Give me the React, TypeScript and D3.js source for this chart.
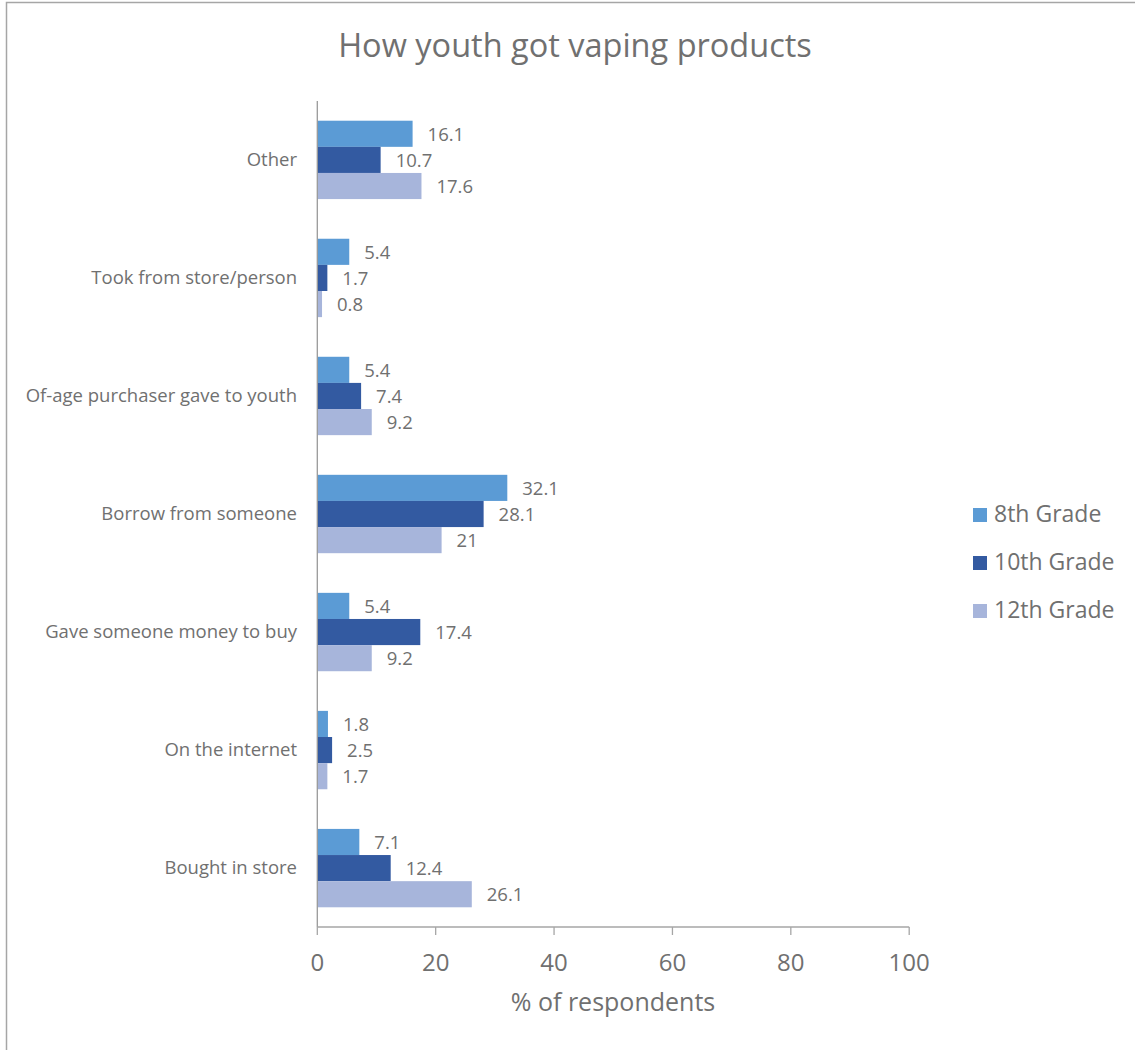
import React from "react";
import * as d3 from "d3";

const categories = [
  "Other",
  "Took from store/person",
  "Of-age purchaser gave to youth",
  "Borrow from someone",
  "Gave someone money to buy",
  "On the internet",
  "Bought in store",
];
const seriesNames = ["8th Grade", "10th Grade", "12th Grade"];
const grade8 = [16.1, 5.4, 5.4, 32.1, 5.4, 1.8, 7.1];
const grade10 = [10.7, 1.7, 7.4, 28.1, 17.4, 2.5, 12.4];
const grade12 = [17.6, 0.8, 9.2, 21, 9.2, 1.7, 26.1];
const xTicks = [0, 20, 40, 60, 80, 100];
const colors = ["#5B9BD5", "#335AA1", "#A7B5DB"];

const FONT = "'Open Sans', 'Noto Sans', sans-serif";
const TEXT = "#707070";

export default function App() {
  const W = 1135, H = 1050;
  const left = 317.3, right = 909.2, top = 101, bottom = 927;
  const x = d3.scaleLinear().domain([0, 100]).range([left, right]);
  const y = d3.scaleBand<string>().domain(categories).range([top, bottom]).paddingInner(0.336).paddingOuter(0.167);
  const inner = d3.scaleBand<string>().domain(seriesNames).range([0, y.bandwidth()]);
  const series = [grade8, grade10, grade12];

  return (
    <svg width={W} height={H} style={{ position: "absolute", left: 0, top: 0, background: "#fff" }} fontFamily={FONT}>
      <rect x={6.5} y={2.5} width={W + 10} height={H + 10} fill="#fff" stroke="#a6a6a6" strokeWidth={1.5} />
      <text x={575} y={48} textAnchor="middle" dominantBaseline="middle" fontSize={32.5} fill={TEXT}>
        How youth got vaping products
      </text>
      {categories.map((c, i) => (
        <g key={c}>
          {series.map((s, k) => {
            const yy = (y(c) as number) + (inner(seriesNames[k]) as number);
            const h = inner.bandwidth();
            return (
              <g key={k}>
                <rect x={x(0)} y={yy} width={x(s[i]) - x(0)} height={h} fill={colors[k]} />
                <text x={x(s[i]) + 15} y={yy + h / 2 + 2} dominantBaseline="middle" fontSize={18.5} fill={TEXT}>
                  {String(s[i])}
                </text>
              </g>
            );
          })}
          <text x={297} y={(y(c) as number) + y.bandwidth() / 2 + 1} textAnchor="end" dominantBaseline="middle" fontSize={18.5} fill={TEXT}>
            {c}
          </text>
        </g>
      ))}
      <line x1={left} x2={left} y1={top} y2={bottom} stroke="#999" strokeWidth={1.3} />
      <line x1={left} x2={right} y1={bottom} y2={bottom} stroke="#a6a6a6" strokeWidth={1.3} />
      {xTicks.map((t) => (
        <g key={t}>
          <line x1={x(t)} x2={x(t)} y1={bottom} y2={bottom + 8} stroke="#a6a6a6" strokeWidth={1.3} />
          <text x={x(t)} y={965} textAnchor="middle" dominantBaseline="middle" fontSize={24} fill={TEXT}>
            {t}
          </text>
        </g>
      ))}
      <text x={613} y={1004} textAnchor="middle" dominantBaseline="middle" fontSize={25} fill={TEXT}>
        % of respondents
      </text>
      {seriesNames.map((n, k) => (
        <g key={n}>
          <rect x={973} y={508 + k * 48} width={14} height={14} fill={colors[k]} />
          <text x={994} y={515 + k * 48 + 1} dominantBaseline="middle" fontSize={23} fill={TEXT}>
            {n}
          </text>
        </g>
      ))}
    </svg>
  );
}
